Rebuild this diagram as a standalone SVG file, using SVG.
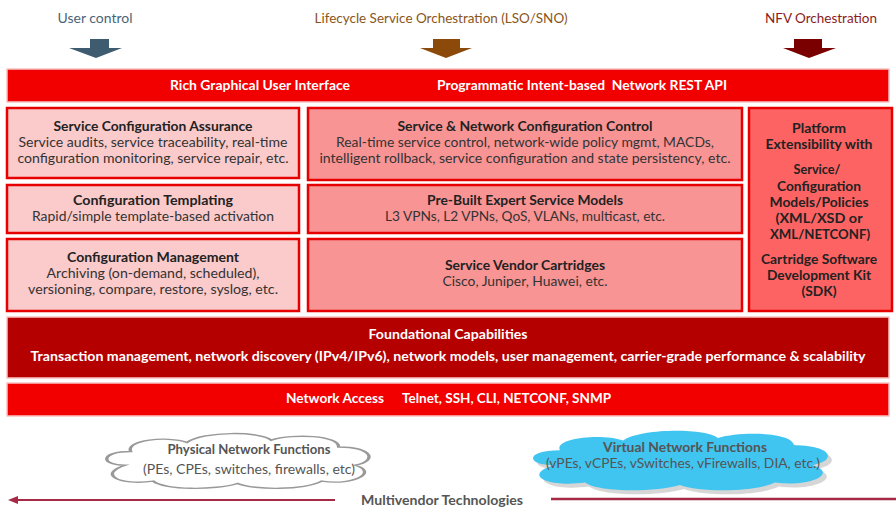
<svg xmlns="http://www.w3.org/2000/svg" width="896" height="508" viewBox="0 0 896 508">
<style>
text{font-family:Lato,"Open Sans","Liberation Sans",sans-serif;}
.t{font-size:13px;font-weight:bold;fill:#222;text-anchor:middle;}
.b{font-size:13px;fill:#333;text-anchor:middle;}
.w{font-size:13px;font-weight:bold;fill:#fff;}
.hdr{font-size:14px;text-anchor:middle;}
.lbox{fill:#fbcaca;stroke:#e60000;stroke-width:2.5;}
.mbox{fill:#f99494;stroke:#e60000;stroke-width:2.5;}
.rbox{fill:#fe6363;stroke:#e60000;stroke-width:2.5;}
.bar{fill:#f20000;stroke:#f9c2c2;stroke-width:1.5;}
.cl{font-size:13px;fill:#555;text-anchor:middle;}
</style>
<defs>
<path id="cloud" d="M10,30 C1,30 1,18 12,18 C10,8 25,4 32,10 C38,0 58,0 62,8 C70,2 86,4 86,14 C98,14 100,26 92,30 C100,36 92,48 80,44 C74,52 56,52 50,46 C42,52 24,52 20,44 C8,48 0,38 10,30 Z"/>
</defs>

<g id="hdr-user">
<text class="hdr" x="95" y="23" fill="#4b6478" textLength="75" lengthAdjust="spacingAndGlyphs">User control</text>
<polygon points="90,39 109,39 109,48 122,48 96,58 69,48 90,48" fill="#3f5b6f"/>
</g>
<g id="hdr-lso">
<text class="hdr" x="441" y="23" fill="#8a5520" textLength="253" lengthAdjust="spacingAndGlyphs">Lifecycle Service Orchestration (LSO/SNO)</text>
<polygon points="433,39 460,39 460,48 472,48 446,58 420,48 433,48" fill="#8b4a0a"/>
</g>
<g id="hdr-nfv">
<text class="hdr" x="821" y="23" fill="#8b1c1c" textLength="112" lengthAdjust="spacingAndGlyphs">NFV Orchestration</text>
<polygon points="794,39 822,39 822,48 836,48 809,58 783,48 794,48" fill="#7a0000"/>
</g>

<g id="top-bar">
<rect class="bar" x="7" y="69" width="882" height="33"/>
<text class="w" x="170" y="90" textLength="180" lengthAdjust="spacingAndGlyphs">Rich Graphical User Interface</text>
<text class="w" x="437" y="90" textLength="290" lengthAdjust="spacingAndGlyphs" style="white-space:pre">Programmatic Intent-based  Network REST API</text>
</g>

<g id="sca">
<rect class="lbox" x="7" y="108" width="292" height="70"/>
<text class="t" x="153" y="131" textLength="199" lengthAdjust="spacingAndGlyphs">Service Configuration Assurance</text>
<text class="b" x="153" y="147" textLength="269" lengthAdjust="spacingAndGlyphs">Service audits, service traceability, real-time</text>
<text class="b" x="153" y="163" textLength="271" lengthAdjust="spacingAndGlyphs">configuration monitoring, service repair, etc.</text>
</g>
<g id="ct">
<rect class="lbox" x="7" y="185" width="292" height="48"/>
<text class="t" x="153" y="205" textLength="160" lengthAdjust="spacingAndGlyphs">Configuration Templating</text>
<text class="b" x="153" y="221" textLength="242" lengthAdjust="spacingAndGlyphs">Rapid/simple template-based activation</text>
</g>
<g id="cm">
<rect class="lbox" x="7" y="239" width="292" height="72"/>
<text class="t" x="153" y="262" textLength="172" lengthAdjust="spacingAndGlyphs">Configuration Management</text>
<text class="b" x="153" y="278" textLength="213" lengthAdjust="spacingAndGlyphs">Archiving (on-demand, scheduled),</text>
<text class="b" x="153" y="294" textLength="250" lengthAdjust="spacingAndGlyphs">versioning, compare, restore, syslog, etc.</text>
</g>

<g id="sncc">
<rect class="mbox" x="308" y="108" width="434" height="72"/>
<text class="t" x="525" y="131" textLength="255" lengthAdjust="spacingAndGlyphs">Service &amp; Network Configuration Control</text>
<text class="b" x="525" y="147" textLength="378" lengthAdjust="spacingAndGlyphs">Real-time service control, network-wide policy mgmt, MACDs,</text>
<text class="b" x="525" y="163" textLength="411" lengthAdjust="spacingAndGlyphs">intelligent rollback, service configuration and state persistency, etc.</text>
</g>
<g id="pbesm">
<rect class="mbox" x="308" y="185" width="434" height="48"/>
<text class="t" x="525" y="205" textLength="196" lengthAdjust="spacingAndGlyphs">Pre-Built Expert Service Models</text>
<text class="b" x="525" y="221" textLength="280" lengthAdjust="spacingAndGlyphs">L3 VPNs, L2 VPNs, QoS, VLANs, multicast, etc.</text>
</g>
<g id="svc">
<rect class="mbox" x="308" y="239" width="434" height="72"/>
<text class="t" x="525" y="270" textLength="160" lengthAdjust="spacingAndGlyphs">Service Vendor Cartridges</text>
<text class="b" x="525" y="286" textLength="165" lengthAdjust="spacingAndGlyphs">Cisco, Juniper, Huawei, etc.</text>
</g>

<g id="platform">
<rect class="rbox" x="749" y="108" width="143" height="203"/>
<text class="t" x="819" y="133" textLength="54" lengthAdjust="spacingAndGlyphs">Platform</text>
<text class="t" x="819" y="149" textLength="107" lengthAdjust="spacingAndGlyphs">Extensibility with</text>
<text class="t" x="817" y="174" textLength="47" lengthAdjust="spacingAndGlyphs">Service/</text>
<text class="t" x="819" y="191" textLength="84" lengthAdjust="spacingAndGlyphs">Configuration</text>
<text class="t" x="819" y="207" textLength="99" lengthAdjust="spacingAndGlyphs">Models/Policies</text>
<text class="t" x="819" y="223" textLength="87" lengthAdjust="spacingAndGlyphs">(XML/XSD or</text>
<text class="t" x="820" y="239" textLength="100" lengthAdjust="spacingAndGlyphs">XML/NETCONF)</text>
<text class="t" x="819" y="264" textLength="116" lengthAdjust="spacingAndGlyphs">Cartridge Software</text>
<text class="t" x="819" y="280" textLength="104" lengthAdjust="spacingAndGlyphs">Development Kit</text>
<text class="t" x="819" y="296" textLength="35" lengthAdjust="spacingAndGlyphs">(SDK)</text>
</g>

<g id="foundational">
<rect x="7" y="317" width="882" height="61" fill="#b50000" stroke="#f9c2c2" stroke-width="1.5"/>
<text class="w" x="448" y="339" text-anchor="middle" textLength="159" lengthAdjust="spacingAndGlyphs">Foundational Capabilities</text>
<text class="w" x="448" y="361" text-anchor="middle" textLength="835" lengthAdjust="spacingAndGlyphs">Transaction management, network discovery (IPv4/IPv6), network models, user management, carrier-grade performance &amp; scalability</text>
</g>

<g id="network-access">
<rect class="bar" x="7" y="383" width="882" height="33"/>
<text class="w" x="286" y="403" textLength="98" lengthAdjust="spacingAndGlyphs">Network Access</text>
<text class="w" x="402" y="403" textLength="209" lengthAdjust="spacingAndGlyphs">Telnet, SSH, CLI, NETCONF, SNMP</text>
</g>

<g id="pnf">
<use href="#cloud" transform="translate(97,431) scale(2.81,1.14)" fill="#fff" stroke="#999" stroke-width="1.2" vector-effect="non-scaling-stroke"/>
<text class="cl" x="249" y="454" font-weight="bold" textLength="163" lengthAdjust="spacingAndGlyphs">Physical Network Functions</text>
<text class="cl" x="249" y="474" textLength="212" lengthAdjust="spacingAndGlyphs">(PEs, CPEs, switches, firewalls, etc)</text>
</g>

<g id="vnf">
<use href="#cloud" transform="translate(526,432) scale(3.16,1.24)" fill="#bbb" opacity="0.6"/>
<use href="#cloud" transform="translate(522,428) scale(3.16,1.24)" fill="#40c4f0"/>
<text class="cl" x="685" y="452" font-weight="bold" textLength="164" lengthAdjust="spacingAndGlyphs">Virtual Network Functions</text>
<text class="cl" x="683" y="468" textLength="274" lengthAdjust="spacingAndGlyphs">(vPEs, vCPEs, vSwitches, vFirewalls, DIA, etc.)</text>
</g>

<g id="connectors">
<line x1="335" y1="500" x2="16" y2="500" stroke="#a52a45" stroke-width="2"/>
<polygon points="8,500 18,496 18,504" fill="#a52a45"/>
<line x1="551" y1="499" x2="896" y2="499" stroke="#a52a45" stroke-width="2.5"/>
</g>
<g id="multivendor">
<text x="442" y="505" font-size="13" font-weight="bold" fill="#555" text-anchor="middle" textLength="162" lengthAdjust="spacingAndGlyphs">Multivendor Technologies</text>
</g>
</svg>
